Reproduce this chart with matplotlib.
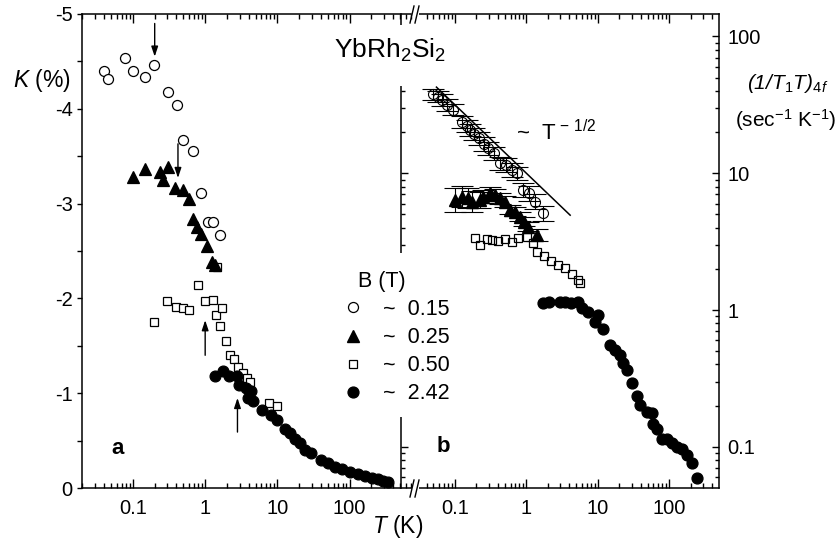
"""
YbRh2Si2: Knight shift K(T) (panel a) and (1/T1T)_4f (panel b) for several fields
"""

import matplotlib
matplotlib.use("Agg")
import matplotlib.pyplot as plt
from matplotlib.lines import Line2D
from matplotlib.patches import Rectangle
from matplotlib.ticker import FixedLocator, NullFormatter

W, H = 839, 549

# panel a: Knight shift K (%)
circ_T = [0.040, 0.045, 0.078, 0.099, 0.147, 0.197, 0.303, 0.403, 0.493, 0.684, 0.88, 1.08, 1.27, 1.59]
circ_K = [-4.40, -4.31, -4.54, -4.40, -4.34, -4.46, -4.18, -4.04, -3.67, -3.56, -3.11, -2.81, -2.81, -2.67]

tri_T = [0.099, 0.148, 0.236, 0.263, 0.303, 0.385, 0.488, 0.597, 0.684, 0.769, 0.875, 1.06, 1.24, 1.38]
tri_K = [-3.28, -3.36, -3.33, -3.25, -3.39, -3.16, -3.14, -3.05, -2.84, -2.75, -2.68, -2.55, -2.38, -2.35]

sq_T = [0.197, 0.296, 0.390, 0.493, 0.597, 0.794, 0.99, 1.29, 1.40, 1.44, 1.62, 1.69, 1.96,
        2.20, 2.50, 2.87, 3.30, 3.79, 4.21, 7.73, 9.78]
sq_K = [-1.75, -1.97, -1.91, -1.90, -1.88, -2.14, -1.97, -1.98, -1.82, -2.33, -1.71, -1.90, -1.55,
        -1.40, -1.36, -1.28, -1.21, -1.16, -1.12, -0.90, -0.87]

dot_T = [1.37, 1.78, 2.16, 2.73, 2.97, 3.67, 3.95, 4.27, 4.62, 6.04, 8.07, 9.78, 12.7, 14.9, 17.5,
         20.6, 24.1, 28.9, 39.8, 50.7, 62.8, 77.8, 101, 132, 163, 202, 250, 293, 340]
dot_K = [-1.18, -1.23, -1.18, -1.18, -1.09, -1.06, -0.95, -1.02, -0.92, -0.82, -0.77, -0.72, -0.62,
         -0.58, -0.52, -0.47, -0.40, -0.37, -0.30, -0.26, -0.22, -0.20, -0.17, -0.15, -0.13,
         -0.11, -0.09, -0.07, -0.065]

# arrows in panel a: (T, K tail, K head)
arrows_a = [(0.2, -4.90, -4.55), (0.42, -3.63, -3.27), (1.0, -1.40, -1.77), (2.8, -0.59, -0.95)]

# panel b: (1/T1T)_4f
rc_T = [0.0497, 0.0573, 0.0652, 0.0766, 0.0947, 0.124, 0.146, 0.162, 0.185, 0.217, 0.255,
        0.293, 0.352, 0.427, 0.518, 0.622, 0.731, 0.906, 1.10, 1.32, 1.73]
rc_v = [37.8, 36.3, 34.4, 31.6, 29.1, 23.8, 22.2, 20.7, 19.4, 18.0, 16.4, 15.2, 14.0, 11.8,
        11.5, 10.6, 10.0, 7.55, 7.14, 6.20, 5.09]
rc_err = [0.10, 0.10, 0.10, 0.10, 0.10, 0.11, 0.11, 0.11, 0.11, 0.11, 0.12, 0.12, 0.12, 0.12,
          0.12, 0.12, 0.12, 0.12, 0.13, 0.13, 0.13]

rt_T = [0.100, 0.124, 0.153, 0.171, 0.224, 0.249, 0.309, 0.363, 0.427, 0.501, 0.589, 0.692,
        0.813, 0.925, 1.06, 1.39]
rt_v = [6.38, 6.75, 6.56, 6.20, 6.38, 6.75, 7.14, 6.94, 6.56, 6.20, 5.40, 5.24, 4.81, 4.43, 4.07, 3.54]
rt_err = [0.22, 0.20, 0.18, 0.20, 0.15, 0.12, 0.12, 0.10, 0.10, 0.10, 0.08, 0.08, 0.08, 0.08,
          0.08, 0.10]

rs_T = [0.191, 0.224, 0.278, 0.327, 0.404, 0.501, 0.622, 0.771, 1.01, 1.25, 1.41, 1.76, 2.21,
        2.77, 3.48, 4.31, 5.28, 5.63]
rs_v = [3.35, 2.99, 3.29, 3.25, 3.20, 3.29, 3.17, 3.35, 3.44, 3.08, 2.66, 2.48, 2.28, 2.13,
        2.03, 1.83, 1.66, 1.57]

rd_T = [1.73, 2.09, 2.96, 3.48, 4.17, 5.33, 5.95, 7.36, 9.14, 10.2, 11.9, 14.8, 17.4, 20.5,
        22.8, 25.4, 29.9, 35.1, 39.0, 48.4, 56.9, 59.8, 66.8, 78.5, 92.2, 108, 127, 150, 176,
        207, 243]
rd_v = [1.12, 1.15, 1.15, 1.14, 1.12, 1.15, 1.03, 0.97, 0.82, 0.92, 0.73, 0.555, 0.51, 0.469,
        0.407, 0.364, 0.294, 0.235, 0.202, 0.180, 0.177, 0.148, 0.136, 0.115, 0.115, 0.106,
        0.100, 0.097, 0.087, 0.0756, 0.0587]

# ~T^-1/2 guide line
power_T = [0.055, 4.1]
power_A = 10.0

fields = ["0.15", "0.25", "0.50", "2.42"]
xticks = [0.1, 1, 10, 100]
xticklabels = ["0.1", "1", "10", "100"]

# marker sizes (pt)
MS_CIRC, MS_TRI, MS_SQ, MS_DOT = 7.2, 8.8, 6.3, 7.8


def fx(x):
    return x / W


def fy(y):
    return 1 - y / H


def minor_log(lo, hi):
    vals = [k * 10.0 ** e for e in range(-2, 4) for k in range(2, 10)]
    return [v for v in vals if lo < v < hi]


def style_panel_a(ax):
    ax.set_xscale("log")
    ax.set_xlim(0.0197, 708)
    ax.set_ylim(0, -5)
    ax.spines["right"].set_visible(False)
    ax.set_xticks(xticks)
    ax.set_xticklabels(xticklabels)
    ax.xaxis.set_minor_locator(FixedLocator(minor_log(0.0197, 708)))
    ax.xaxis.set_minor_formatter(NullFormatter())
    ax.tick_params(axis="x", which="both", direction="in", top=True, bottom=True,
                   width=1, labelsize=14.5, pad=8)
    ax.tick_params(axis="x", which="major", length=6.5)
    ax.tick_params(axis="x", which="minor", length=3.5)
    ax.set_yticks([-5, -4, -3, -2, -1, 0])
    ax.yaxis.set_minor_locator(FixedLocator([-4.5, -3.5, -2.5, -1.5, -0.5]))
    ax.tick_params(axis="y", which="both", direction="out", left=True, right=False,
                   length=3.8, width=1, labelsize=14.5, pad=3)


def style_panel_b(ax):
    ax.patch.set_visible(False)
    ax.set_xscale("log")
    ax.set_yscale("log")
    ax.set_xlim(0.01754, 498)
    ax.set_ylim(0.05, 146)
    ax.spines["top"].set_bounds(0.0313, 498)
    ax.spines["bottom"].set_bounds(0.0313, 498)
    ax.set_xticks(xticks)
    ax.set_xticklabels(xticklabels)
    ax.xaxis.set_minor_locator(FixedLocator(minor_log(0.035, 498)))
    ax.xaxis.set_minor_formatter(NullFormatter())
    ax.tick_params(axis="x", which="both", direction="in", top=True, bottom=True,
                   width=1, labelsize=14.5, pad=8)
    ax.tick_params(axis="x", which="major", length=6.5)
    ax.tick_params(axis="x", which="minor", length=3.5)
    ax.set_yticks([0.1, 1, 10, 100])
    ax.set_yticklabels(["0.1", "1", "10", "100"])
    ax.yaxis.set_minor_locator(FixedLocator(minor_log(0.05, 146)))
    ax.yaxis.set_minor_formatter(NullFormatter())
    ax.tick_params(axis="y", which="both", direction="in", left=True, right=True,
                   labelleft=False, labelright=True, width=1, labelsize=14.5, pad=6)
    ax.tick_params(axis="y", which="major", length=5)
    ax.tick_params(axis="y", which="minor", length=3)


def main():
    plt.rcParams.update({
        "font.family": ["Liberation Sans", "DejaVu Sans"],
        "mathtext.fontset": "custom",
        "mathtext.rm": "Liberation Sans",
        "mathtext.it": "Liberation Sans:italic",
        "mathtext.bf": "Liberation Sans:bold",
        "axes.unicode_minus": False,
        "axes.linewidth": 1.1,
    })

    fig = plt.figure(figsize=(W / 100, H / 100), dpi=100)
    ax1 = fig.add_axes([fx(82), fy(488), fx(411) - fx(82), (488 - 14) / H])
    ax2 = fig.add_axes([fx(401), fy(488), fx(719) - fx(401), (488 - 14) / H])

    style_panel_a(ax1)
    style_panel_b(ax2)

    k = dict(color="black", linestyle="none", mew=0.9)
    ax1.plot(sq_T, sq_K, "s", ms=MS_SQ, mfc="white", mec="black", **k)
    ax1.plot(circ_T, circ_K, "o", ms=MS_CIRC, mfc="white", mec="black", **k)
    ax1.plot(tri_T, tri_K, "^", ms=MS_TRI, **k)
    ax1.plot(dot_T, dot_K, "o", ms=MS_DOT, **k)

    for T, k0, k1 in arrows_a:
        ax1.annotate("", xy=(T, k1), xytext=(T, k0),
                     arrowprops=dict(arrowstyle="-|>,head_length=0.6,head_width=0.2",
                                     color="black", lw=1.0, mutation_scale=10,
                                     shrinkA=0, shrinkB=0))

    eb = dict(ecolor="black", elinewidth=0.8, capsize=8, capthick=0.8, linestyle="none")
    lo = [v - v / (1 + f) for v, f in zip(rc_v, rc_err)]
    hi = [v * f for v, f in zip(rc_v, rc_err)]
    ax2.errorbar(rc_T, rc_v, yerr=[lo, hi], fmt="o", ms=MS_CIRC, mfc="none", mec="black",
                 mew=0.8, **eb)
    lo = [v - v / (1 + f) for v, f in zip(rt_v, rt_err)]
    hi = [v * f for v, f in zip(rt_v, rt_err)]
    ax2.errorbar(rt_T, rt_v, yerr=[lo, hi], fmt="^", ms=MS_TRI, color="black", **eb)
    ax2.plot(rs_T, rs_v, "s", ms=MS_SQ, mfc="none", mec="black", mew=0.9, linestyle="none")
    ax2.plot(rd_T, rd_v, "o", ms=MS_DOT, color="black", linestyle="none")
    ax2.plot(power_T, [power_A * t ** -0.5 for t in power_T], color="black", lw=1.1)

    # gaps in the left spine of panel b (under title and legend)
    for y0, y1 in [(25, 86), (253, 417)]:
        fig.add_artist(Rectangle((fx(396), fy(y1)), fx(410) - fx(396), (y1 - y0) / H,
                                 transform=fig.transFigure, fc="white", ec="none", zorder=1))

    # axis break marks
    for yb in [14, 488]:
        fig.add_artist(Rectangle((fx(411.5), fy(yb + 3)), fx(418.5) - fx(411.5), 6 / H,
                                 transform=fig.transFigure, fc="white", ec="none", zorder=1.5))
        for xs in [410, 415]:
            fig.add_artist(Line2D([fx(xs), fx(xs + 4)], [fy(yb + 9), fy(yb - 8)],
                                  transform=fig.transFigure, color="black", lw=1.0, zorder=2))

    handles = [
        Line2D([], [], marker="o", ms=MS_CIRC, mfc="white", mec="black", mew=0.9, linestyle="none"),
        Line2D([], [], marker="^", ms=MS_TRI, color="black", linestyle="none"),
        Line2D([], [], marker="s", ms=MS_SQ, mfc="white", mec="black", mew=0.9, linestyle="none"),
        Line2D([], [], marker="o", ms=MS_DOT, color="black", linestyle="none"),
    ]
    labels = ["~  " + f for f in fields]
    fig.legend(handles, labels, loc="upper left", bbox_to_anchor=(fx(342), fy(299)),
               frameon=False, fontsize=15.5, handlelength=1.0, handletextpad=0.9,
               labelspacing=0.33, borderpad=0, borderaxespad=0)
    fig.text(fx(358), fy(281), "B (T)", fontsize=15.5, ha="left", va="center")

    fig.text(fx(390), fy(58), r"YbRh$_2$Si$_2$", fontsize=19, ha="center", va="baseline")
    fig.text(fx(516), fy(133), r"~  T$^{\,-\,1/2}$", fontsize=16, ha="left", va="center")
    fig.text(fx(13), fy(80), r"$K$ (%)", fontsize=16.5, ha="left", va="center")
    fig.text(fx(398), fy(527), r"$T$ (K)", fontsize=16.5, ha="center", va="center")
    fig.text(fx(788), fy(84), r"(1/T$_1$T)$_{4f}$", fontsize=15, fontstyle="italic",
             ha="center", va="center")
    fig.text(fx(786), fy(120), r"(sec$^{-1}$ K$^{-1}$)", fontsize=15, ha="center", va="center")
    fig.text(fx(118), fy(448), "a", fontsize=16, fontweight="bold", ha="center", va="center")
    fig.text(fx(443), fy(447), "b", fontsize=16, fontweight="bold", ha="center", va="center")

    fig.savefig("out.png", dpi=100)
    plt.close(fig)


if __name__ == "__main__":
    main()
